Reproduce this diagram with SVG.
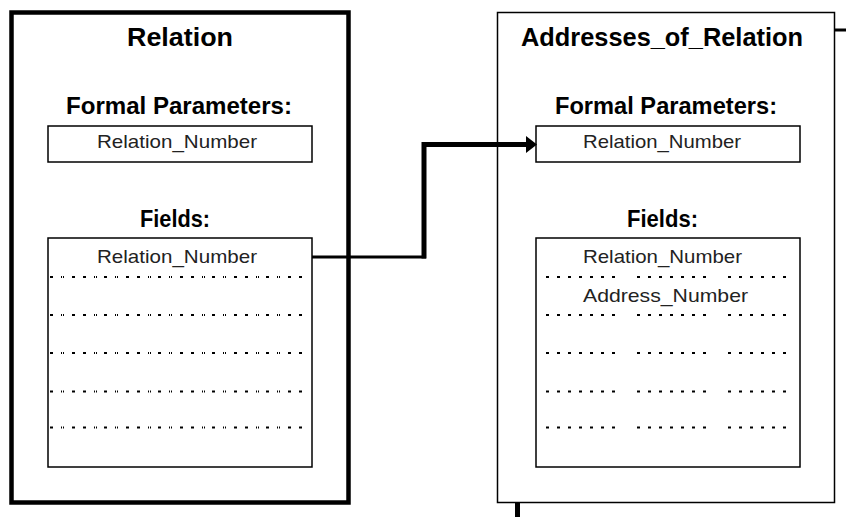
<svg xmlns="http://www.w3.org/2000/svg" width="846" height="517" viewBox="0 0 846 517">
  <style>
    .title { font-family: "Liberation Sans", Arial, sans-serif; font-weight: bold; font-size: 26px; fill: #000; }
    .head { font-family: "Liberation Sans", Arial, sans-serif; font-weight: bold; font-size: 24px; fill: #000; }
    .item { font-family: "Liberation Sans", Arial, sans-serif; font-size: 19px; fill: #222; }
    .box { fill: #fff; stroke: #000; stroke-width: 1.5; }
    .dotsA { stroke: #000; stroke-width: 2; fill: none; stroke-dasharray: 3 8 1 1 1 8 3 8 3 8 1 1 1 7; }
    .dotsB { stroke: #000; stroke-width: 2; fill: none; stroke-dasharray: 3 8 3 8 3 8 3 8 3 8 3 8 3 22; }
    .wire { stroke: #000; fill: none; stroke-linejoin: miter; }
  </style>

  <rect width="846" height="517" fill="#fff"/>

  <!-- Relation: entity with thick frame -->
  <g id="relation">
    <rect x="11.5" y="12.5" width="337" height="490" fill="#fff" stroke="#000" stroke-width="4.5"/>
    <text class="title" x="127" y="46" textLength="106" lengthAdjust="spacingAndGlyphs">Relation</text>
    <text class="head" x="66" y="113.5" textLength="226" lengthAdjust="spacingAndGlyphs">Formal Parameters:</text>
    <rect class="box" x="48" y="126" width="264" height="36"/>
    <text class="item" x="97" y="148" textLength="160" lengthAdjust="spacingAndGlyphs">Relation_Number</text>
    <text class="head" x="140" y="227" textLength="70" lengthAdjust="spacingAndGlyphs">Fields:</text>
    <rect class="box" x="48" y="238" width="264" height="229"/>
    <text class="item" x="97" y="263" textLength="160" lengthAdjust="spacingAndGlyphs">Relation_Number</text>
    <line class="dotsA" x1="50" y1="277" x2="304" y2="277"/>
    <line class="dotsA" x1="50" y1="315" x2="304" y2="315"/>
    <line class="dotsA" x1="50" y1="353" x2="304" y2="353"/>
    <line class="dotsA" x1="50" y1="391.5" x2="304" y2="391.5"/>
    <line class="dotsA" x1="50" y1="427.5" x2="304" y2="427.5"/>
  </g>

  <!-- Addresses_of_Relation: entity with thin frame -->
  <g id="addresses_of_relation">
    <rect x="497.5" y="12.5" width="337" height="490" fill="#fff" stroke="#000" stroke-width="1.5"/>
    <text class="title" x="521" y="46" textLength="282" lengthAdjust="spacingAndGlyphs">Addresses_of_Relation</text>
    <text class="head" x="555" y="113.5" textLength="222" lengthAdjust="spacingAndGlyphs">Formal Parameters:</text>
    <rect class="box" x="536" y="126" width="264" height="36"/>
    <text class="item" x="583" y="148" textLength="158" lengthAdjust="spacingAndGlyphs">Relation_Number</text>
    <text class="head" x="627" y="227" textLength="71" lengthAdjust="spacingAndGlyphs">Fields:</text>
    <rect class="box" x="536" y="238" width="264" height="229"/>
    <text class="item" x="583" y="263" textLength="159" lengthAdjust="spacingAndGlyphs">Relation_Number</text>
    <text class="item" x="583" y="302" textLength="165" lengthAdjust="spacingAndGlyphs">Address_Number</text>
    <line class="dotsB" x1="546" y1="277" x2="790" y2="277"/>
    <line class="dotsB" x1="546" y1="315" x2="790" y2="315"/>
    <line class="dotsB" x1="546" y1="353" x2="790" y2="353"/>
    <line class="dotsB" x1="546" y1="391.5" x2="790" y2="391.5"/>
    <line class="dotsB" x1="546" y1="427.5" x2="790" y2="427.5"/>
  </g>

  <!-- Connectors -->
  <g id="connectors">
    <line class="wire" x1="312" y1="257" x2="426" y2="257" stroke-width="3"/>
    <polyline class="wire" points="424,258.5 424,144.5 528,144.5" stroke-width="5"/>
    <polygon points="526,136 537,144.5 526,153" fill="#000"/>
    <line class="wire" x1="835" y1="30" x2="846" y2="30" stroke-width="3"/>
    <line class="wire" x1="517.5" y1="503" x2="517.5" y2="517" stroke-width="5"/>
  </g>
</svg>
